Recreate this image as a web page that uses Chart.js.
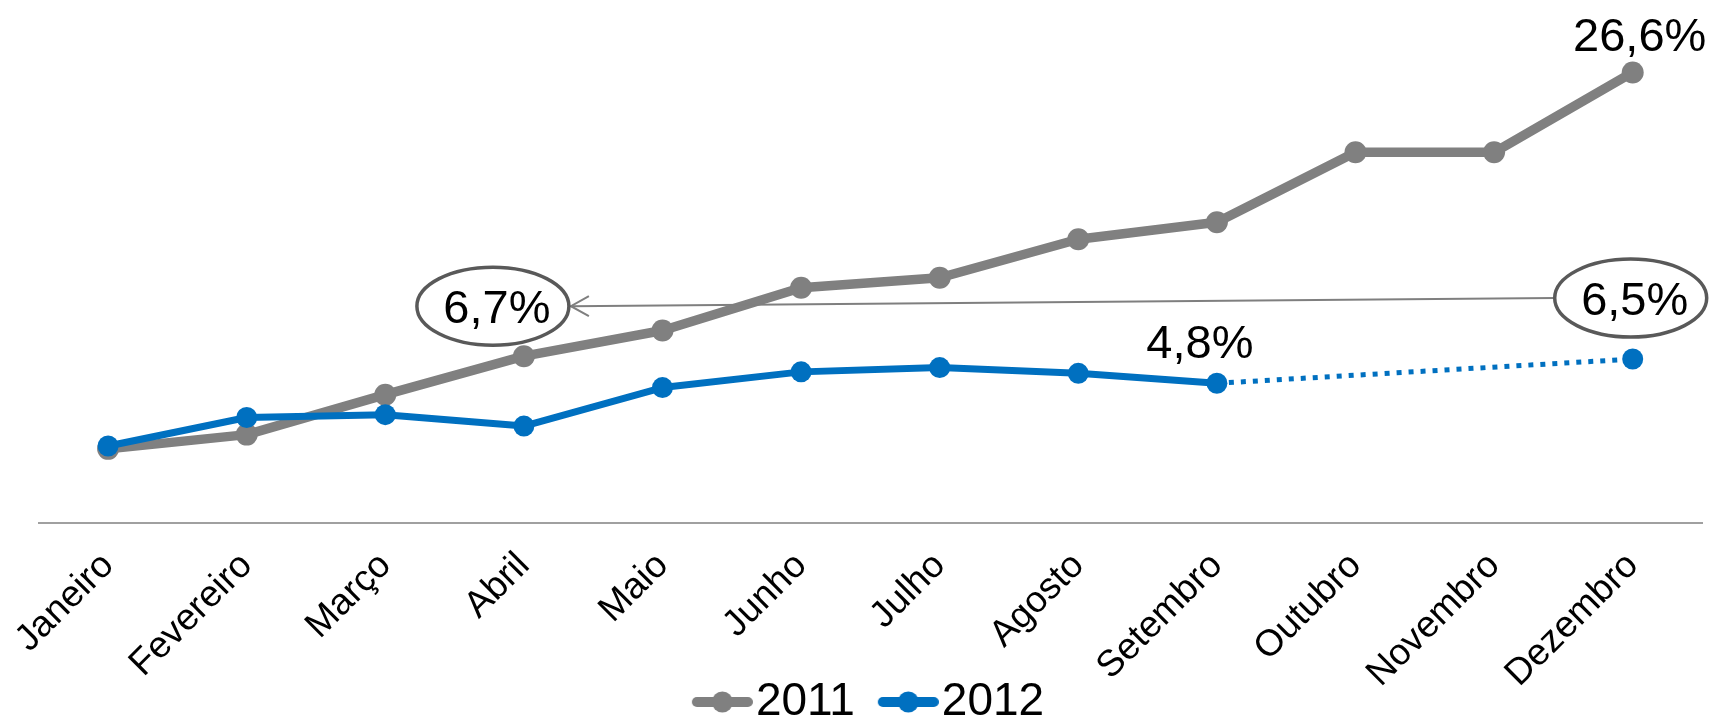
<!DOCTYPE html>
<html>
<head>
<meta charset="utf-8">
<script src="https://cdn.jsdelivr.net/npm/chart.js@4/dist/chart.umd.min.js"></script>
<style>
    html, body { margin: 0; padding: 0; background: #FFFFFF; }
    #chartBox { width: 1713px; height: 721px; }
</style>
</head>
<body>
<div id="chartBox"><canvas id="myChart"></canvas></div>
<script>
const months = ['Janeiro', 'Fevereiro', 'Março', 'Abril', 'Maio', 'Junho', 'Julho', 'Agosto', 'Setembro', 'Outubro', 'Novembro', 'Dezembro'];
const seriesNames = ['2011', '2012'];
const values2011 = [0.2, 1.2, 4.0, 6.7, 8.5, 11.5, 12.2, 14.9, 16.1, 21.0, 21.0, 26.6];
const values2012 = [0.4, 2.4, 2.6, 1.8, 4.5, 5.6, 5.9, 5.5, 4.8, null, null, 6.5];

const grey = '#808080';
const blue = '#0070C0';
const fontName = '"Liberation Sans", Arial, sans-serif';
const labelSize = 47;

function formatPct(value) {
    return value.toFixed(1).replace('.', ',') + '%';
}

// legend sample: a short line with a dot in the middle
function makeLegendIcon(color) {
    let icon = document.createElement('canvas');
    icon.width = 84;
    icon.height = 24;
    let c = icon.getContext('2d');
    c.strokeStyle = color;
    c.lineWidth = 10;
    c.lineCap = 'round';
    c.beginPath();
    c.moveTo(28, 12);
    c.lineTo(79, 12);
    c.stroke();
    c.fillStyle = color;
    c.beginPath();
    c.arc(53.5, 12, 10.5, 0, Math.PI * 2);
    c.fill();
    return icon;
}

function drawText(ctx, text, x, y) {
    ctx.save();
    ctx.font = labelSize + 'px ' + fontName;
    ctx.fillStyle = '#000000';
    ctx.textAlign = 'center';
    ctx.textBaseline = 'alphabetic';
    ctx.fillText(text, x, y + labelSize * 0.358);
    ctx.restore();
}

function drawEllipse(ctx, x, y) {
    ctx.save();
    ctx.beginPath();
    ctx.ellipse(x, y, 76, 39, 0, 0, Math.PI * 2);
    ctx.fillStyle = '#FFFFFF';
    ctx.fill();
    ctx.lineWidth = 3.5;
    ctx.strokeStyle = '#595959';
    ctx.stroke();
    ctx.restore();
}

const labelPlugin = {
    id: 'valueLabels',
    afterLayout(chart) {
        // let the rotated month names run past the axis box
        chart.scales.x.bottom = chart.height;
    },
    afterDatasetsDraw(chart) {
        const ctx = chart.ctx;
        const xs = chart.scales.x;
        const ys = chart.scales.y;

        // 26,6% over the last 2011 point
        drawText(ctx, formatPct(values2011[11]), xs.getPixelForValue(11) + 7, ys.getPixelForValue(values2011[11]) - 38);
        // 4,8% over the last real 2012 point
        drawText(ctx, formatPct(values2012[8]), xs.getPixelForValue(8) - 17, ys.getPixelForValue(values2012[8]) - 42);

        // circled values and the arrow between them
        let rightX = xs.getPixelForValue(11) - 2;
        let rightY = ys.getPixelForValue(values2012[11]) - 61;
        let leftX = xs.getPixelForValue(3) - 31;
        let leftY = ys.getPixelForValue(values2011[3]) - 50;

        ctx.save();
        ctx.strokeStyle = '#7F7F7F';
        ctx.lineWidth = 2;
        ctx.beginPath();
        ctx.moveTo(rightX - 76, rightY);
        ctx.lineTo(leftX + 78, leftY);
        ctx.stroke();
        ctx.beginPath();
        ctx.moveTo(leftX + 96, leftY - 10);
        ctx.lineTo(leftX + 78, leftY);
        ctx.lineTo(leftX + 96, leftY + 10);
        ctx.stroke();
        ctx.restore();

        drawEllipse(ctx, leftX, leftY);
        drawText(ctx, formatPct(values2011[3]), leftX + 4, leftY);
        drawEllipse(ctx, rightX, rightY);
        drawText(ctx, formatPct(values2012[11]), rightX + 4, rightY);
    }
};

// the months without 2012 data are bridged by a dotted line
function gapSegment(c, value) {
    return c.p0.skip || c.p1.skip ? value : undefined;
}

const ctx = document.getElementById('myChart');

new Chart(ctx, {
    type: 'line',
    data: {
        labels: months,
        datasets: [{
            label: seriesNames[0],
            data: values2011,
            borderColor: grey,
            backgroundColor: grey,
            borderWidth: 9.5,
            pointRadius: 11,
            pointBorderWidth: 0,
            pointHoverRadius: 11,
            borderJoinStyle: 'round',
            tension: 0,
            order: 1
        }, {
            label: seriesNames[1],
            data: values2012,
            borderColor: blue,
            backgroundColor: blue,
            borderWidth: 7,
            pointRadius: 10.5,
            pointBorderWidth: 0,
            pointHoverRadius: 10.5,
            borderJoinStyle: 'round',
            tension: 0,
            spanGaps: true,
            order: 0,
            segment: {
                borderDash: c => gapSegment(c, [5, 7]),
                borderWidth: c => gapSegment(c, 5)
            }
        }]
    },
    options: {
        responsive: true,
        maintainAspectRatio: false,
        animation: false,
        events: [],
        layout: {
            padding: { top: 24, left: 31, right: 11, bottom: -14 }
        },
        scales: {
            x: {
                offset: true,
                grid: { display: false, drawTicks: false },
                border: { display: true, color: '#A0A0A0', width: 2 },
                ticks: {
                    color: '#000000',
                    font: { family: fontName, size: 37 },
                    minRotation: 45,
                    maxRotation: 45,
                    autoSkip: false,
                    padding: 21
                },
                afterFit: scale => { scale.height = 136; }
            },
            y: {
                display: false,
                min: -5,
                max: 30
            }
        },
        plugins: {
            tooltip: { enabled: false },
            legend: {
                position: 'bottom',
                labels: {
                    color: '#000000',
                    font: { family: fontName, size: 46 },
                    usePointStyle: true,
                    pointStyleWidth: 44,
                    padding: 20,
                    generateLabels: chart => chart.data.datasets.map((ds, i) => ({
                        text: ds.label,
                        fillStyle: ds.borderColor,
                        strokeStyle: ds.borderColor,
                        lineWidth: 0,
                        pointStyle: makeLegendIcon(ds.borderColor),
                        fontColor: '#000000',
                        hidden: false,
                        datasetIndex: i
                    }))
                }
            }
        }
    },
    plugins: [labelPlugin]
});
</script>
</body>
</html>
